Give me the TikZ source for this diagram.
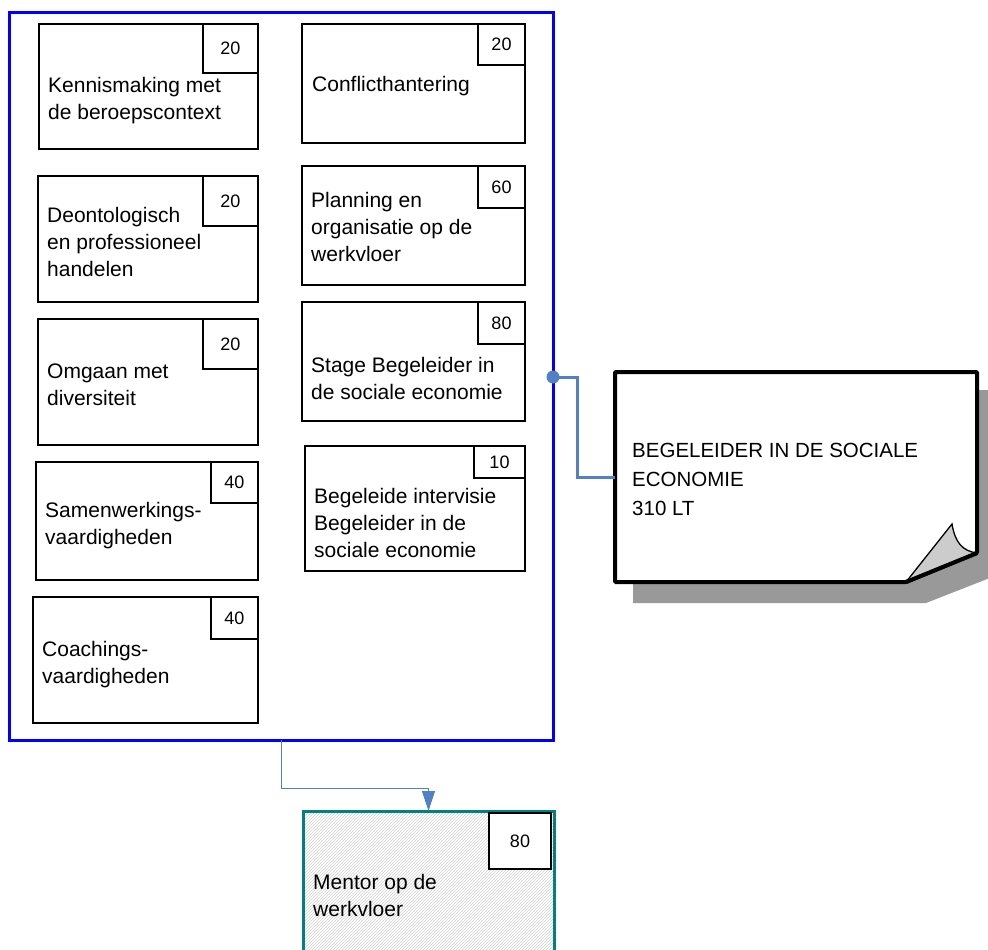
\documentclass[tikz,border=0pt]{standalone}
\usepackage{fontspec}
\setmainfont{Liberation Sans}
\usetikzlibrary{arrows.meta,patterns}
\definecolor{lijnblauw}{RGB}{79,129,196}
\definecolor{kaderblauw}{RGB}{0,0,255}
\definecolor{mentorgroen}{RGB}{0,128,128}
\begin{document}
\begin{tikzpicture}[x=1pt,y=-1pt]
\tikzset{vak/.style={draw, line width=1.6pt, anchor=north west, inner sep=0pt, outer sep=0pt}}
\tikzset{lt/.style={draw, fill=white, line width=1.6pt, anchor=north east, inner sep=0pt, outer sep=0pt, font=\fontsize{18}{20}\selectfont}}
\tikzset{tekst/.style={anchor=base west, align=left, inner sep=0pt, font=\fontsize{21}{27}\selectfont}}
\tikzset{verbinding/.style={draw=lijnblauw, line width=3pt}}
\useasboundingbox (0,0) rectangle (988,950);
\node[vak, draw=kaderblauw, line width=3pt, minimum width=544, minimum height=727] (kader) at (9,13) {};
\node[vak, minimum width=219, minimum height=125] (kennis) at (39,24) {};
\node[lt, minimum width=55, minimum height=49] (kennis-lt) at (kennis.north east) {20};
\node[tekst] (kennis-tekst) at (48,119) {Kennismaking met\\de beroepscontext};
\node[vak, minimum width=223, minimum height=119] (conflict) at (302,24) {};
\node[lt, minimum width=47, minimum height=41] (conflict-lt) at (conflict.north east) {20};
\node[tekst] (conflict-tekst) at (312,92) {Conflicthantering};
\node[vak, minimum width=220, minimum height=126] (deonto) at (38,176) {};
\node[lt, minimum width=55, minimum height=50] (deonto-lt) at (deonto.north east) {20};
\node[tekst] (deonto-tekst) at (47,276) {Deontologisch\\en professioneel\\handelen};
\node[vak, minimum width=223, minimum height=119] (planning) at (302,166) {};
\node[lt, minimum width=47, minimum height=42] (planning-lt) at (planning.north east) {60};
\node[tekst] (planning-tekst) at (311,261) {Planning en\\organisatie op de\\werkvloer};
\node[vak, minimum width=220, minimum height=126] (omgaan) at (38,319) {};
\node[lt, minimum width=55, minimum height=50] (omgaan-lt) at (omgaan.north east) {20};
\node[tekst] (omgaan-tekst) at (47,405) {Omgaan met\\diversiteit};
\node[vak, minimum width=223, minimum height=119] (stage) at (302,302) {};
\node[lt, minimum width=47, minimum height=42] (stage-lt) at (stage.north east) {80};
\node[tekst] (stage-tekst) at (311,399) {Stage Begeleider in\\de sociale economie};
\node[vak, minimum width=222, minimum height=118] (samen) at (36,462) {};
\node[lt, minimum width=47, minimum height=41] (samen-lt) at (samen.north east) {40};
\node[tekst] (samen-tekst) at (45,544) {Samenwerkings-\\vaardigheden};
\node[vak, minimum width=220, minimum height=125] (intervisie) at (305,446) {};
\node[lt, minimum width=51, minimum height=32] (intervisie-lt) at (intervisie.north east) {10};
\node[tekst] (intervisie-tekst) at (314,557) {Begeleide intervisie\\Begeleider in de\\sociale economie};
\node[vak, minimum width=225, minimum height=126] (coach) at (33,597) {};
\node[lt, minimum width=47, minimum height=42] (coach-lt) at (coach.north east) {40};
\node[tekst] (coach-tekst) at (42,683) {Coachings-\\vaardigheden};
\node[vak, draw=mentorgroen, line width=3pt, pattern=north east lines, pattern color=black!18, minimum width=251, minimum height=160] (mentor) at (303,811) {};
\node[lt, minimum width=62, minimum height=56] (mentor-lt) at ([shift={(-3,2)}]mentor.north east) {80};
\node[tekst] (mentor-tekst) at (313,916) {Mentor op de\\werkvloer};
\draw[draw=lijnblauw, line width=1pt, -{Triangle[length=20pt,width=13pt]}] (kader.south) -- ++(0,48) -| (mentor.north);
\node[inner sep=0pt, outer sep=0pt, minimum width=362, minimum height=210, anchor=north west] (notitie) at (615,372) {};
\fill[black!40] (633,390) -- (1000,390) -- (1000,574) -- (926,603) -- (633,603) -- cycle;
\draw[line width=4pt, fill=white, rounded corners=1pt] (notitie.north west) -- (notitie.north east) -- (977,553) -- (906,582) -- (notitie.south west) -- cycle;
\draw[line width=1.3pt, fill=black!20] (906,582) -- (952,524) .. controls (955,542) and (962,551) .. (977,553);
\draw[line width=4pt] (906,582) -- (977,553);
\node[tekst, font=\fontsize{20.5}{29}\selectfont] (notitie-tekst) at (632,515) {BEGELEIDER IN DE SOCIALE\\ECONOMIE\\310 LT};
\coordinate (punt) at (553,377);
\draw[verbinding] (punt) -- ++(24,0) |- (notitie.west);
\fill[lijnblauw] (punt) circle (6.5);
\end{tikzpicture}
\end{document}
